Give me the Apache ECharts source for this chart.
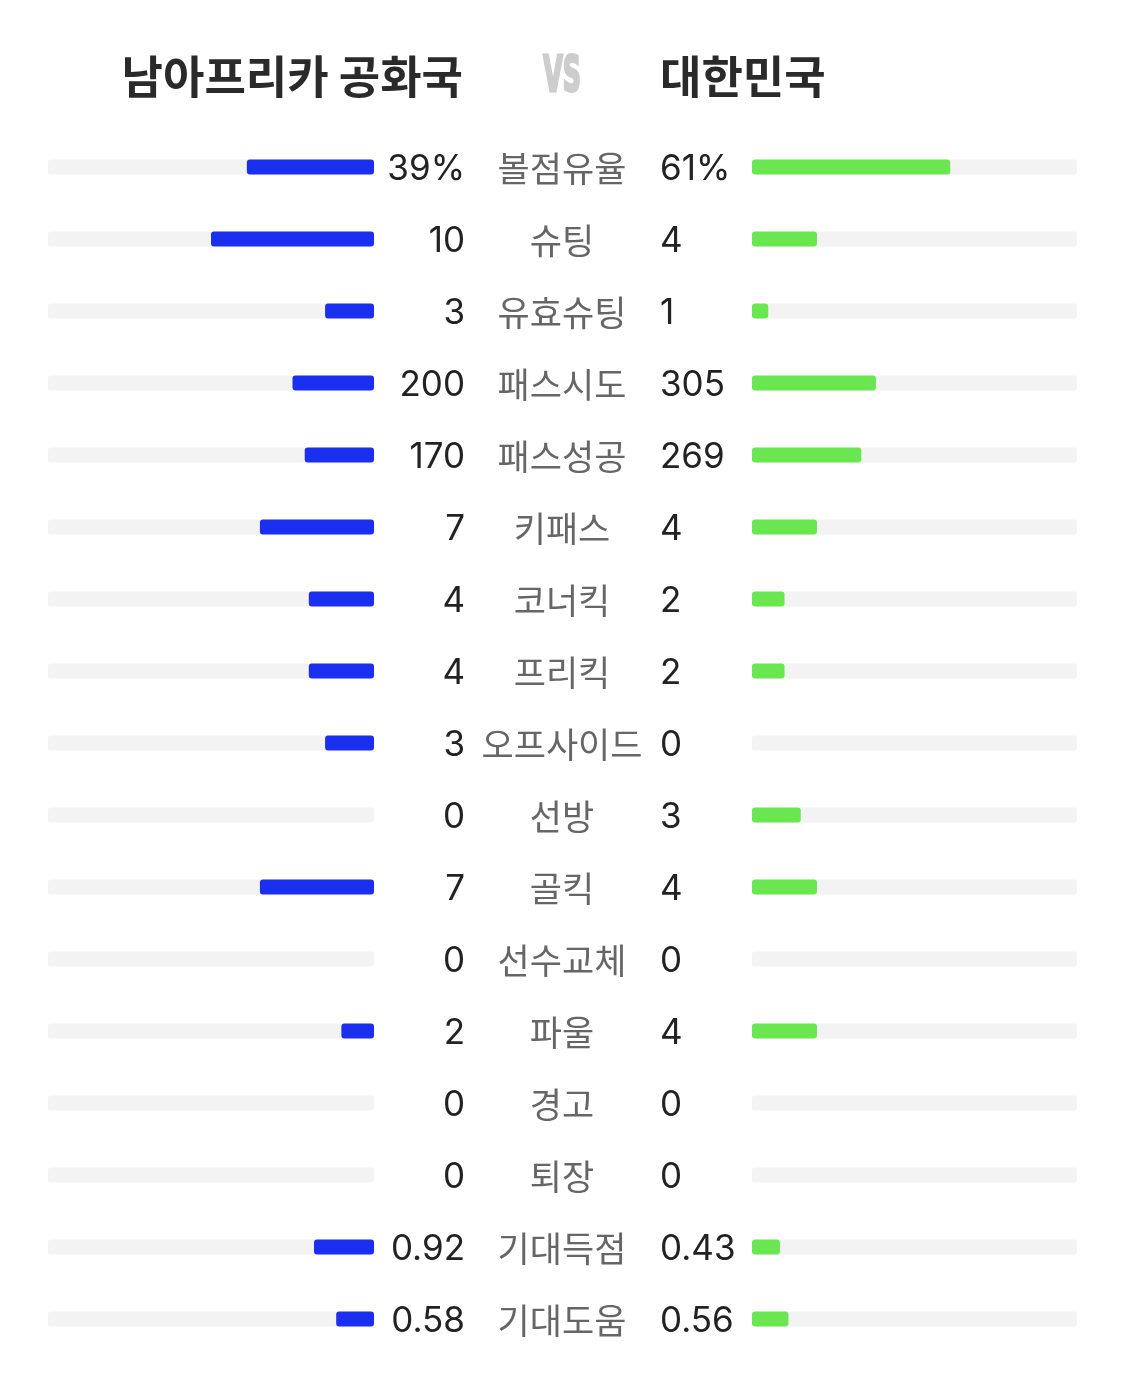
<!DOCTYPE html>
<html>
<head>
<meta charset="utf-8">
<script src="https://cdn.jsdelivr.net/npm/echarts@6/dist/echarts.min.js"></script>
<style>
html,body{margin:0;padding:0;background:#fff;}
#chart{width:1125px;height:1377px;}
</style>
</head>
<body>
<div id="chart"></div>
<script>
const homeTeam = '남아프리카 공화국';
const awayTeam = '대한민국';
const categories = ['볼점유율','슈팅','유효슈팅','패스시도','패스성공','키패스','코너킥','프리킥','오프사이드','선방','골킥','선수교체','파울','경고','퇴장','기대득점','기대도움'];
const homeValues = [39,10,3,200,170,7,4,4,3,0,7,0,2,0,0,0.92,0.58];
const awayValues = [61,4,1,305,269,4,2,2,0,3,4,0,4,0,0,0.43,0.56];
const rowMax = [100,20,20,800,800,20,20,20,20,20,20,20,20,20,20,5,5];
const suffix = ['%','','','','','','','','','','','','','','','',''];

const fmt = (v,i) => String(v) + suffix[i];
const KFONT = '"Noto Sans CJK KR", "Noto Sans", sans-serif';
const NFONT = 'Inter, "Noto Sans", sans-serif';

const hidden = {axisLine: {show: false}, axisTick: {show: false}, splitLine: {show: false}};

const chart = echarts.init(document.getElementById('chart'));
chart.setOption({
  animation: false,
  backgroundColor: '#ffffff',
  grid: [
    {left: 48, width: 326, top: 131, height: 1224},
    {left: 752, width: 325, top: 131, height: 1224}
  ],
  xAxis: [
    {gridIndex: 0, type: 'value', min: 0, max: 1, inverse: true, show: false},
    {gridIndex: 1, type: 'value', min: 0, max: 1, show: false}
  ],
  yAxis: [
    Object.assign({
      gridIndex: 0, type: 'category', data: categories, inverse: true, position: 'right',
      axisLabel: {
        margin: 91, align: 'right', verticalAlign: 'middle',
        formatter: (val, idx) => '{n|' + fmt(homeValues[idx], idx) + '}',
        rich: {n: {fontSize: 35, color: '#222222', fontFamily: NFONT, padding: [5, 0, 0, 0]}}
      }
    }, hidden),
    Object.assign({
      gridIndex: 1, type: 'category', data: categories, inverse: true, position: 'left',
      axisLabel: {
        margin: 92, align: 'left', verticalAlign: 'middle',
        formatter: (val, idx) => '{n|' + fmt(awayValues[idx], idx) + '}',
        rich: {n: {fontSize: 35, color: '#222222', fontFamily: NFONT, padding: [5, 0, 0, 0]}}
      }
    }, hidden),
    Object.assign({
      gridIndex: 0, type: 'category', data: categories, inverse: true, position: 'right', offset: 0,
      axisLabel: {
        margin: 188, align: 'center', verticalAlign: 'middle',
        formatter: (val) => '{c|' + val + '}',
        rich: {c: {fontSize: 35, color: '#666666', fontFamily: KFONT, padding: [4, 0, 0, 0]}}
      }
    }, hidden)
  ],
  series: [
    {
      type: 'bar', xAxisIndex: 0, yAxisIndex: 0, barWidth: 15,
      data: homeValues.map((v,i) => v / rowMax[i]),
      itemStyle: {color: '#1a2ff0', borderRadius: 3},
      showBackground: true,
      backgroundStyle: {color: '#f3f3f3', borderRadius: 3}
    },
    {
      type: 'bar', xAxisIndex: 1, yAxisIndex: 1, barWidth: 15,
      data: awayValues.map((v,i) => v / rowMax[i]),
      itemStyle: {color: '#6ae650', borderRadius: 3},
      showBackground: true,
      backgroundStyle: {color: '#f3f3f3', borderRadius: 3}
    }
  ],
  graphic: [
    {type: 'text', x: 463, y: 77,
      style: {text: homeTeam, fontSize: 45, fontWeight: 'bold', fill: '#2a2a2a', fontFamily: KFONT,
        align: 'right', verticalAlign: 'middle'}},
    {type: 'text', x: 660, y: 77,
      style: {text: awayTeam, fontSize: 45, fontWeight: 'bold', fill: '#2a2a2a', fontFamily: KFONT,
        align: 'left', verticalAlign: 'middle'}},
    {type: 'text', x: 562, y: 78, scaleX: 0.56, scaleY: 1,
      style: {text: 'VS', fontSize: 50, fontWeight: 'bold', fill: '#cdcdcd', stroke: '#cdcdcd', lineWidth: 3,
        fontFamily: '"DejaVu Sans Condensed", "DejaVu Sans", sans-serif', align: 'center', verticalAlign: 'middle'}}
  ]
});
</script>
</body>
</html>
